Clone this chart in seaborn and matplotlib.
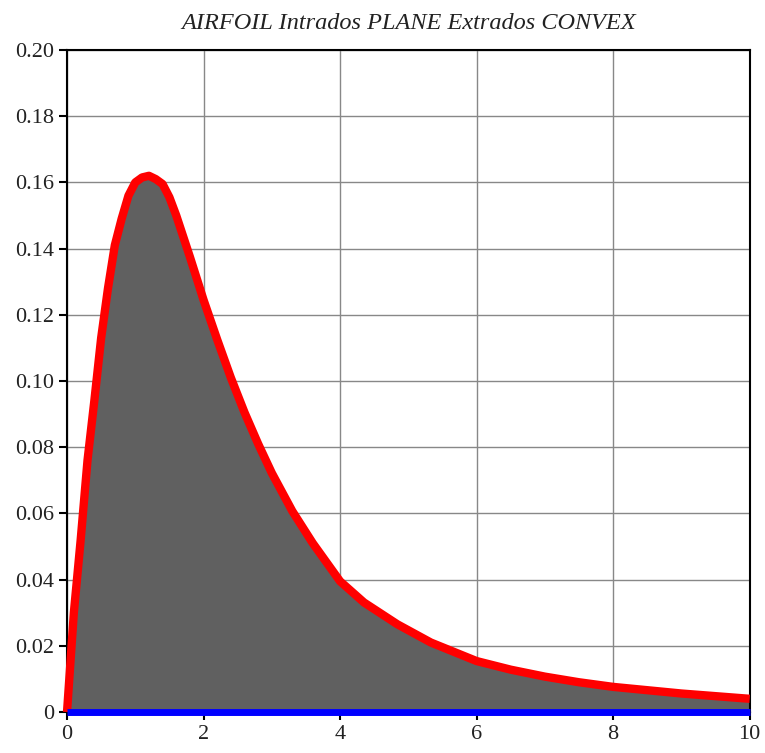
import matplotlib
matplotlib.use("Agg")
import matplotlib.pyplot as plt
import seaborn as sns
import pandas as pd

# extrados (convex) thickness profile
chord = [0, 0.05, 0.1, 0.2, 0.3, 0.4, 0.5, 0.6, 0.7, 0.8, 0.9, 1.0, 1.1, 1.2,
         1.3, 1.4, 1.5, 1.6, 1.8, 2.0, 2.2, 2.4, 2.6, 2.8, 3.0, 3.3, 3.6, 4.0,
         4.35, 4.84, 5.33, 6.0, 6.5, 7.0, 7.5, 8.0, 8.5, 9.0, 9.5, 10.0]
extrados = [0.0, 0.015, 0.03, 0.052, 0.076, 0.094, 0.113, 0.128, 0.141, 0.149,
            0.156, 0.160, 0.1615, 0.162, 0.161, 0.1595, 0.1555, 0.150, 0.1375,
            0.1245, 0.1125, 0.101, 0.0905, 0.081, 0.0722, 0.0607, 0.051, 0.0395,
            0.0331, 0.0265, 0.021, 0.0154, 0.0128, 0.0107, 0.009, 0.0076, 0.0066,
            0.0056, 0.0048, 0.0040]
intrados = [0.0] * len(chord)

x_ticks = [0, 2, 4, 6, 8, 10]
y_ticks = [0, 0.02, 0.04, 0.06, 0.08, 0.10, 0.12, 0.14, 0.16, 0.18, 0.20]
y_labels = ["0", "0.02", "0.04", "0.06", "0.08", "0.10", "0.12", "0.14", "0.16", "0.18", "0.20"]

df = pd.DataFrame({"x": chord, "extrados": extrados, "intrados": intrados})

sns.set_style("white")
plt.rcParams["font.family"] = ["Liberation Serif", "DejaVu Serif"]

fig = plt.figure(figsize=(7.65, 7.53), dpi=100)
ax = fig.add_axes([0.0876, 0.0544, 0.8924, 0.8792])

ax.fill_between(df["x"], df["intrados"], df["extrados"], color="#606060", zorder=2)
sns.lineplot(data=df, x="x", y="extrados", color="#ff0000", linewidth=6.0, ax=ax, zorder=3)
sns.lineplot(data=df, x="x", y="intrados", color="#0000ff", linewidth=5.0, ax=ax, zorder=4)
for ln in ax.lines:
    ln.set_clip_on(False)
    ln.set_solid_capstyle("butt")
    ln.set_solid_joinstyle("round")

ax.set_xlim(0, 10)
ax.set_ylim(0, 0.20)
ax.set_xticks(x_ticks)
ax.set_xticklabels([str(t) for t in x_ticks])
ax.set_yticks(y_ticks)
ax.set_yticklabels(y_labels)
ax.grid(True, color="#888888", linewidth=1.0, zorder=1)
ax.set_axisbelow(True)
ax.set_xlabel("")
ax.set_ylabel("")

for side in ["left", "bottom", "top", "right"]:
    ax.spines[side].set_color("black")
    ax.spines[side].set_linewidth(1.5)

ax.tick_params(axis="both", direction="out", length=6, width=1.5, colors="black",
               labelsize=16, left=True, bottom=True, labelcolor="#222222")

ax.set_title("AIRFOIL Intrados PLANE Extrados CONVEX", fontsize=17.5, style="italic",
             color="#222222", pad=15)

fig.savefig("out.png", dpi=100)
plt.close()
